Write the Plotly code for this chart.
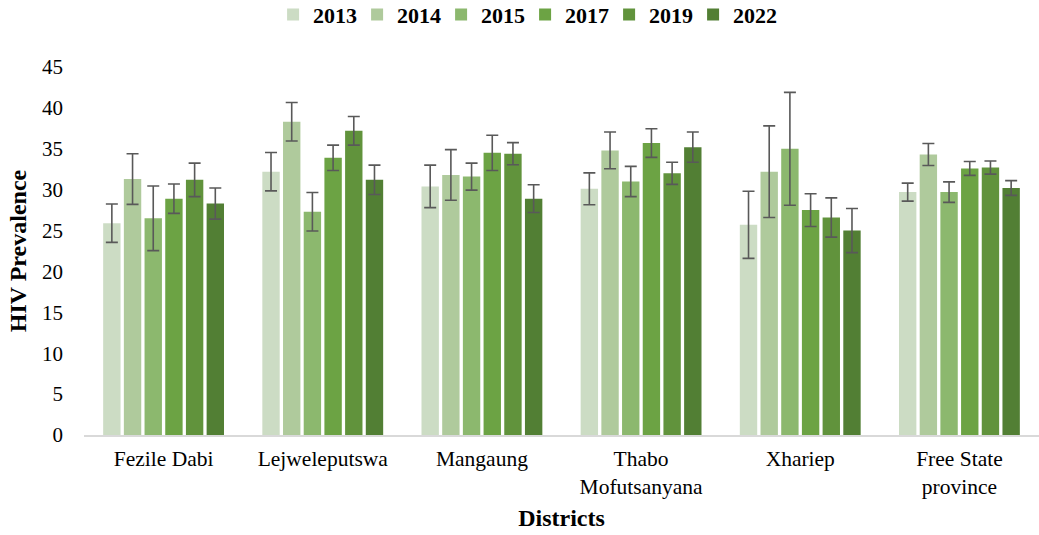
import plotly.graph_objects as go

districts = ["Fezile Dabi", "Lejweleputswa", "Mangaung",
             "Thabo<br>Mofutsanyana", "Xhariep", "Free State<br>province"]
years = ["2013", "2014", "2015", "2017", "2019", "2022"]

# prevalence per year, one value per district
prev_2013 = [25.9, 32.2, 30.4, 30.1, 25.7, 29.7]
prev_2014 = [31.3, 38.3, 31.8, 34.8, 32.2, 34.3]
prev_2015 = [26.5, 27.3, 31.6, 31.0, 35.0, 29.7]
prev_2017 = [28.9, 33.9, 34.5, 35.7, 27.5, 32.6]
prev_2019 = [31.2, 37.2, 34.4, 32.0, 26.6, 32.7]
prev_2022 = [28.3, 31.2, 28.9, 35.2, 25.0, 30.2]

# half-widths of the error bars
err_2013 = [2.35, 2.35, 2.6, 1.95, 4.1, 1.1]
err_2014 = [3.1, 2.35, 3.1, 2.25, 5.6, 1.35]
err_2015 = [3.95, 2.35, 1.65, 1.85, 6.9, 1.25]
err_2017 = [1.8, 1.55, 2.15, 1.75, 2.0, 0.85]
err_2019 = [2.05, 1.75, 1.35, 1.35, 2.4, 0.8]
err_2022 = [1.9, 1.8, 1.7, 1.85, 2.7, 0.9]

values = [prev_2013, prev_2014, prev_2015, prev_2017, prev_2019, prev_2022]
errors = [err_2013, err_2014, err_2015, err_2017, err_2019, err_2022]
colors = ["#ccdcc4", "#afca9c", "#8cb86e", "#6ca344", "#61933c", "#527f34"]

font_family = "Liberation Serif, Times New Roman, serif"

fig = go.Figure()
for year, vals, errs, col in zip(years, values, errors, colors):
    fig.add_trace(go.Bar(
        x=districts, y=vals, name=year,
        marker_color=col,
        marker_line_width=0,
        error_y=dict(type="data", array=errs, visible=True,
                     color="#595959", thickness=1.6, width=6),
    ))

fig.update_layout(
    width=1039, height=535,
    paper_bgcolor="white", plot_bgcolor="white",
    barmode="group", bargap=0.22, bargroupgap=0.16,
    margin=dict(l=84, r=0, t=67, b=100, autoexpand=False),
    font=dict(family=font_family, size=21, color="black"),
    legend=dict(orientation="h", x=0.198, xanchor="left",
                y=1.142, yanchor="middle",
                font=dict(size=22, family=font_family, weight="bold"),
                itemwidth=30, entrywidth=39, entrywidthmode="pixels",
                tracegroupgap=0),
    xaxis=dict(showline=True, linecolor="#d9d9d9", linewidth=1.5,
               ticks="", tickfont=dict(size=21.5), ticklabelstandoff=3,
               title=dict(text="<b>Districts</b>", standoff=12,
                          font=dict(size=24))),
    yaxis=dict(range=[0, 45], dtick=5, showgrid=False, zeroline=False,
               showline=False, ticks="", tickfont=dict(size=21),
               ticklabelstandoff=20,
               title=dict(text="<b>HIV Prevalence</b>", standoff=8,
                          font=dict(size=24))),
)

# drop the default 8px page margin so the figure fills the window
fig.write_html("out.html", config={"displayModeBar": False},
               post_script="document.body.style.margin = '0';")
